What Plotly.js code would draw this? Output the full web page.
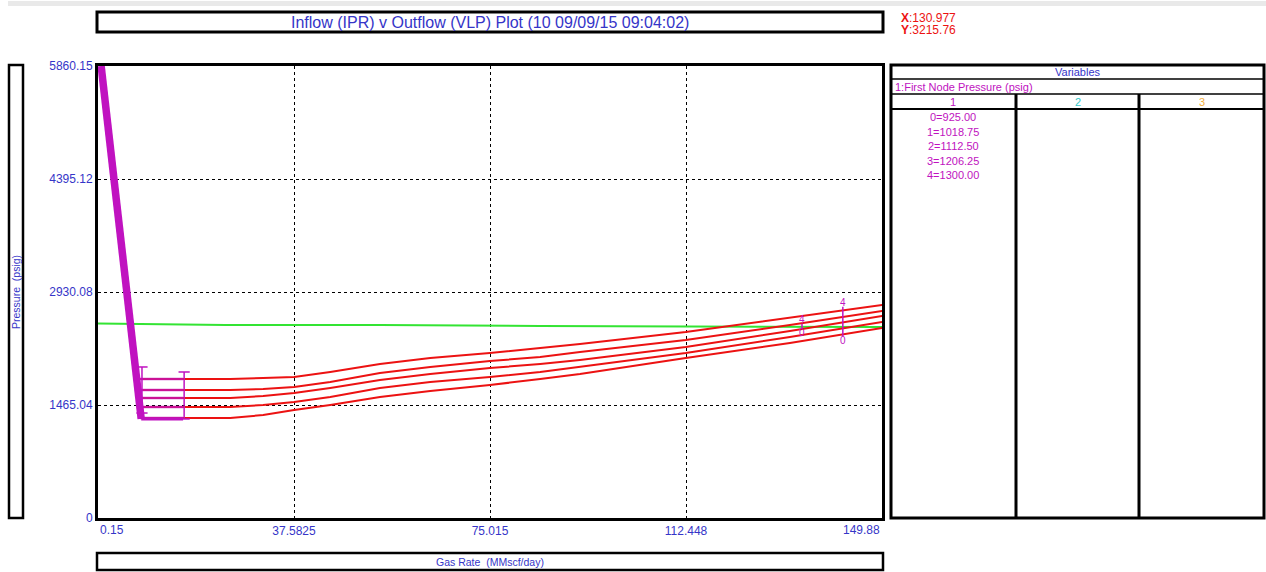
<!DOCTYPE html>
<html>
<head>
<meta charset="utf-8">
<script src="https://cdn.plot.ly/plotly-3.0.1.min.js"></script>
<style>html,body{margin:0;padding:0;background:#fff;}#chart{width:1266px;height:572px;}</style>
</head>
<body>
<div id="chart"></div>
<script>
// ---- data ----
const gasRate = [8.2, 16.4, 25.4, 31.7, 37.6, 44.5, 54.0, 63.6, 75.0, 84.6, 92.2, 112.4, 132.3, 149.9];
const vlp0 = [1297, 1297, 1297, 1335, 1400, 1465, 1569, 1647, 1724, 1802, 1867, 2074, 2269, 2463];
const vlp1 = [1439, 1439, 1439, 1465, 1504, 1569, 1686, 1763, 1828, 1893, 1958, 2139, 2347, 2541];
const vlp2 = [1556, 1556, 1556, 1582, 1621, 1686, 1789, 1867, 1945, 1997, 2049, 2217, 2425, 2619];
const vlp3 = [1660, 1660, 1660, 1673, 1698, 1763, 1880, 1958, 2036, 2087, 2152, 2308, 2502, 2684];
const vlp4 = [1802, 1802, 1802, 1815, 1828, 1893, 1997, 2074, 2139, 2204, 2256, 2412, 2593, 2762];
const iprRate = [0.75, 8.4];
const iprPressure = [5860, 1285];
const refRate = [0.15, 24.5, 54.0, 84.6, 149.88];
const refPressure = [2522, 2502, 2502, 2489, 2476];
const barRate = [8.55, 16.6];
const barLow = [1361, 1284];
const barHigh = [1958, 1893];
const xTickVals = [0.15, 37.5825, 75.015, 112.448, 149.88];
const xTickText = ['0.15', '37.5825', '75.015', '112.448', '149.88'];
const yTickVals = [0, 1465.04, 2930.08, 4395.12, 5860.15];
const yTickText = ['0', '1465.04', '2930.08', '4395.12', '5860.15'];
const nodeLabels = ['0=925.00', '1=1018.75', '2=1112.50', '3=1206.25', '4=1300.00'];
const curveTagRate = [142.4, 134.6];
const curveTagTop = [2800, 2580];
const curveTagBottom = [2295, 2399];

// ---- styling / layout helpers ----
const L = 98, R = 882, T = 66, B = 518;
const px = v => (v - L) / (R - L);
const py = v => (B - v) / (B - T);
const FONT = 'Arial, "Liberation Sans", sans-serif';
const BLUE = '#3535c8', RED = '#ec1212', GREEN = '#33e433', MAG = '#c012c0';

const traces = [];
traces.push({x: refRate, y: refPressure, mode: 'lines', line: {color: GREEN, width: 2}, hoverinfo: 'skip'});
[vlp0, vlp1, vlp2, vlp3, vlp4].forEach(v => {
  traces.push({x: gasRate, y: v, mode: 'lines', line: {color: RED, width: 2}, hoverinfo: 'skip'});
});
[vlp0, vlp1, vlp2, vlp3, vlp4].forEach(v => {
  traces.push({x: gasRate.slice(0, 2), y: v.slice(0, 2), mode: 'lines', line: {color: MAG, width: 2.5}, opacity: 0.75, hoverinfo: 'skip'});
});
traces.push({x: iprRate, y: iprPressure, mode: 'lines', line: {color: MAG, width: 7.5}, hoverinfo: 'skip'});
// bottom of IPR joins the lowest curve
traces.push({x: [iprRate[1], gasRate[1]], y: [iprPressure[1], iprPressure[1]], mode: 'lines', line: {color: MAG, width: 3}, hoverinfo: 'skip'});
barRate.forEach((r, i) => {
  traces.push({x: [r, r], y: [barLow[i], barHigh[i]], mode: 'lines+markers',
    line: {color: MAG, width: 1.5}, marker: {symbol: 'line-ew-open', size: 8, color: MAG, line: {color: MAG, width: 1.5}}, hoverinfo: 'skip'});
});
// cap above the IPR start
traces.push({x: [iprRate[0], iprRate[0]], y: [iprPressure[0] + 60, iprPressure[0] + 117], mode: 'markers', cliponaxis: false,
  marker: {symbol: ['line-ns-open', 'line-ew-open'], size: [9, 8], color: MAG, line: {color: MAG, width: 1.5}}, hoverinfo: 'skip'});
curveTagRate.forEach((r, i) => {
  traces.push({x: [r, r], y: [curveTagBottom[i] + 60, curveTagTop[i] - 60], mode: 'lines', line: {color: MAG, width: 1.5}, hoverinfo: 'skip'});
});

const shapes = [];
const box = (x0, y0, x1, y1, w) => shapes.push({type: 'rect', xref: 'paper', yref: 'paper', x0: px(x0), x1: px(x1), y0: py(y1), y1: py(y0), line: {color: '#000', width: w}, layer: 'above'});
const hline = (x0, x1, y, w) => shapes.push({type: 'line', xref: 'paper', yref: 'paper', x0: px(x0), x1: px(x1), y0: py(y), y1: py(y), line: {color: '#000', width: w}});
const vline = (x, y0, y1, w) => shapes.push({type: 'line', xref: 'paper', yref: 'paper', x0: px(x), x1: px(x), y0: py(y0), y1: py(y1), line: {color: '#000', width: w}});
shapes.push({type: 'rect', xref: 'paper', yref: 'paper', x0: px(8), x1: px(1266), y0: py(6), y1: py(1), fillcolor: '#e9e9e9', line: {width: 0}, layer: 'below'});
box(97, 12, 883, 32, 3);
box(9, 65, 23, 518, 2.5);
box(97, 553, 883, 570, 2.5);
box(891, 65, 1264, 518, 3);
hline(891, 1264, 79, 1.5);
hline(891, 1264, 94, 1.5);
hline(891, 1264, 109, 2);
vline(1016, 94, 518, 3);
vline(1139, 94, 518, 3);

const ann = [];
const txt = (x, y, text, size, color, opts) => ann.push(Object.assign({xref: 'paper', yref: 'paper', x: px(x), y: py(y), text: text, showarrow: false,
  font: {family: FONT, size: size, color: color}, xanchor: 'center', yanchor: 'middle'}, opts || {}));
txt(490, 22, 'Inflow (IPR) v Outflow (VLP) Plot (10 09/09/15 09:04:02)', 16, BLUE);
txt(899, 18, '<b>X</b>:130.977', 12, RED, {xanchor: 'left'});
txt(899, 30, '<b>Y</b>:3215.76', 12, RED, {xanchor: 'left'});
txt(16, 292, 'Pressure  (psig)', 10.5, BLUE, {textangle: -90});
txt(490, 561.5, 'Gas Rate  (MMscf/day)', 10.5, BLUE);
txt(1078, 72, 'Variables', 11, BLUE);
txt(893, 86.5, '1:First Node Pressure (psig)', 11, MAG, {xanchor: 'left'});
txt(953, 102, '1', 11, MAG);
txt(1078, 102, '2', 11, '#33c8c8');
txt(1202, 102, '3', 11, '#f4b040');
nodeLabels.forEach((s, i) => txt(953, 117 + i * 14.5, s, 11, MAG));
// end tick labels of the x axis (aligned inside like the reference)
ann.push({xref: 'x', yref: 'paper', x: xTickVals[0], y: py(530), text: xTickText[0], showarrow: false, xanchor: 'left', yanchor: 'middle', font: {family: FONT, size: 12, color: BLUE}});
ann.push({xref: 'x', yref: 'paper', x: xTickVals[4], y: py(530), text: xTickText[4], showarrow: false, xanchor: 'right', yanchor: 'middle', font: {family: FONT, size: 12, color: BLUE}});
curveTagRate.forEach((r, i) => {
  ann.push({xref: 'x', yref: 'y', x: r, y: curveTagTop[i], text: '4', showarrow: false, font: {family: FONT, size: 10, color: MAG}});
  ann.push({xref: 'x', yref: 'y', x: r, y: curveTagBottom[i], text: '0', showarrow: false, font: {family: FONT, size: 10, color: MAG}});
});

const layout = {
  width: 1266, height: 572,
  margin: {l: L, r: 1266 - R, t: T, b: 572 - B, pad: 0},
  paper_bgcolor: '#fff', plot_bgcolor: '#fff',
  showlegend: false,
  font: {family: FONT, color: BLUE},
  xaxis: {range: [0.15, 149.88], tickvals: xTickVals, ticktext: ['', xTickText[1], xTickText[2], xTickText[3], ''],
    showgrid: true, gridcolor: '#000', gridwidth: 1, griddash: '3px,3px', zeroline: false,
    showline: true, mirror: true, linecolor: '#000', linewidth: 3, ticks: '',
    tickfont: {family: FONT, size: 12, color: BLUE}, fixedrange: true},
  yaxis: {range: [0, 5860.15], tickvals: yTickVals, ticktext: yTickText,
    showgrid: true, gridcolor: '#000', gridwidth: 1, griddash: '3px,3px', zeroline: false,
    showline: true, mirror: true, linecolor: '#000', linewidth: 3, ticks: '',
    tickfont: {family: FONT, size: 12, color: BLUE}, fixedrange: true},
  shapes: shapes,
  annotations: ann
};
Plotly.newPlot('chart', traces, layout, {displayModeBar: false, staticPlot: true});
</script>
</body>
</html>
